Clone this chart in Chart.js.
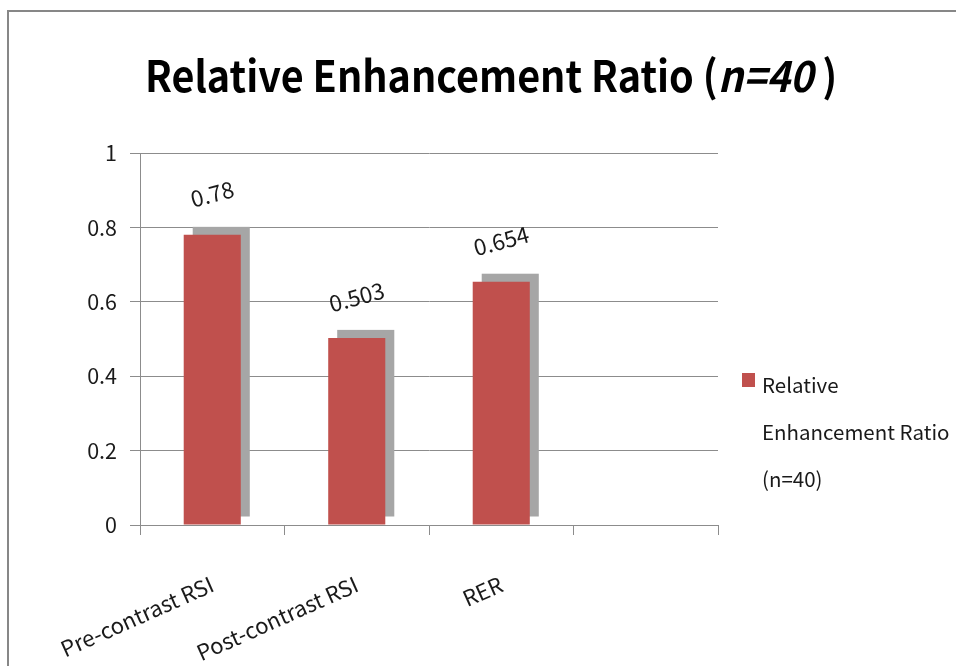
<!DOCTYPE html>
<html>
<head>
<meta charset="utf-8">
<script src="https://cdn.jsdelivr.net/npm/chart.js@4.4.1/dist/chart.umd.min.js"></script>
<style>
  html, body { margin: 0; padding: 0; background: #fff; overflow: hidden; }
  #wrap { position: relative; width: 956px; height: 666px; }
  #frame { position: absolute; left: 7px; top: 10px; width: 1000px; height: 1000px;
           border-top: 2px solid #878787; border-left: 2px solid #878787; }
  canvas { position: absolute; left: 0; top: 0; }
</style>
</head>
<body>
<div id="wrap">
  <div id="frame"></div>
  <canvas id="rerChart" width="956" height="666"></canvas>
</div>
<script>
// data
var categories = ['Pre-contrast RSI', 'Post-contrast RSI', 'RER', ''];
var ratioValues = [0.78, 0.503, 0.654, null];
var yTickValues = [0, 0.2, 0.4, 0.6, 0.8, 1];
var seriesLabel = 'Relative Enhancement Ratio (n=40)';
var legendLines = ['Relative', 'Enhancement Ratio', '(n=40)'];
var titleParts = [
  { text: 'Relative Enhancement Ratio (', italic: false },
  { text: 'n=40', italic: true },
  { text: ' )', italic: false }
];

var FONT = '"Noto Sans CJK KR", "Noto Sans", sans-serif';
var TEXT = '#1a1a1a';
var BAR_RED = '#c0504d';
var SHADOW = '#a6a6a6';
var GRID = '#8c8c8c';

// title with the italic "n=40" part, slightly condensed
var titlePlugin = {
  id: 'mixedTitle',
  afterDraw: function(chart) {
    var ctx = chart.ctx;
    var squeeze = 0.92;
    ctx.save();
    ctx.fillStyle = '#000';
    ctx.textBaseline = 'alphabetic';
    var widths = titleParts.map(function(p) {
      ctx.font = (p.italic ? 'italic ' : '') + 'bold 43px ' + FONT;
      return ctx.measureText(p.text).width;
    });
    var total = widths.reduce(function(a, b) { return a + b; }, 0) * squeeze;
    ctx.translate(491 - total / 2, 92);
    ctx.scale(squeeze, 1);
    var x = 0;
    titleParts.forEach(function(p, i) {
      ctx.font = (p.italic ? 'italic ' : '') + 'bold 43px ' + FONT;
      ctx.fillText(p.text, x, 0);
      x += widths[i];
    });
    ctx.restore();
  }
};

// grey offset shadow behind each bar
var shadowPlugin = {
  id: 'barShadow',
  beforeDatasetsDraw: function(chart) {
    var ctx = chart.ctx;
    ctx.save();
    ctx.fillStyle = SHADOW;
    chart.getDatasetMeta(0).data.forEach(function(bar, i) {
      if (ratioValues[i] == null) return;
      var w = bar.width;
      ctx.fillRect(bar.x - w / 2 + 9, bar.y - 8, w, bar.base - bar.y);
    });
    ctx.restore();
  }
};

// tilted value labels above the bars
var valueLabelPlugin = {
  id: 'valueLabels',
  afterDatasetsDraw: function(chart) {
    var ctx = chart.ctx;
    ctx.save();
    ctx.font = '22.5px ' + FONT;
    ctx.fillStyle = TEXT;
    ctx.textAlign = 'center';
    ctx.textBaseline = 'middle';
    chart.getDatasetMeta(0).data.forEach(function(bar, i) {
      if (ratioValues[i] == null) return;
      ctx.save();
      ctx.translate(bar.x, bar.y - 41);
      ctx.rotate(-15 * Math.PI / 180);
      ctx.fillText(String(ratioValues[i]), 0, 0);
      ctx.restore();
    });
    ctx.restore();
  }
};

// legend on the right, wrapped over three lines
var legendPlugin = {
  id: 'sideLegend',
  afterDraw: function(chart) {
    var ctx = chart.ctx;
    var ds = chart.data.datasets[0];
    ctx.save();
    ctx.fillStyle = ds.backgroundColor;
    ctx.fillRect(742, 373, 13, 14);
    ctx.font = '20.5px ' + FONT;
    ctx.fillStyle = TEXT;
    ctx.textBaseline = 'alphabetic';
    legendLines.forEach(function(line, i) {
      ctx.fillText(line, 762, 393 + i * 47);
    });
    ctx.restore();
  }
};

var ctx = document.getElementById('rerChart').getContext('2d');
var rerChart = new Chart(ctx, {
  type: 'bar',
  data: {
    labels: categories,
    datasets: [{
      label: seriesLabel,
      data: ratioValues,
      backgroundColor: BAR_RED,
      borderWidth: 0,
      barPercentage: 0.395,
      categoryPercentage: 1
    }]
  },
  options: {
    responsive: false,
    animation: false,
    layout: { padding: { top: 153, right: 238, left: 0, bottom: 0 } },
    plugins: {
      legend: { display: false },
      title: { display: false },
      tooltip: { enabled: false }
    },
    scales: {
      x: {
        grid: { display: true, drawOnChartArea: false, color: GRID, tickLength: 10, offset: true },
        border: { color: GRID },
        ticks: {
          color: TEXT,
          font: { family: FONT, size: 22 },
          minRotation: 24,
          maxRotation: 24,
          padding: 36,
          autoSkip: false
        },
        afterFit: function(scale) { scale.height = 141; }
      },
      y: {
        min: 0,
        max: 1,
        afterBuildTicks: function(scale) {
          scale.ticks = yTickValues.map(function(v) { return { value: v }; });
        },
        grid: { color: GRID, tickLength: 10 },
        border: { color: GRID },
        ticks: {
          color: TEXT,
          font: { family: FONT, size: 21.5 },
          padding: 13,
          callback: function(value) { return String(value); }
        },
        afterFit: function(scale) { scale.width = 140; }
      }
    }
  },
  plugins: [shadowPlugin, valueLabelPlugin, legendPlugin, titlePlugin]
});
</script>
</body>
</html>
